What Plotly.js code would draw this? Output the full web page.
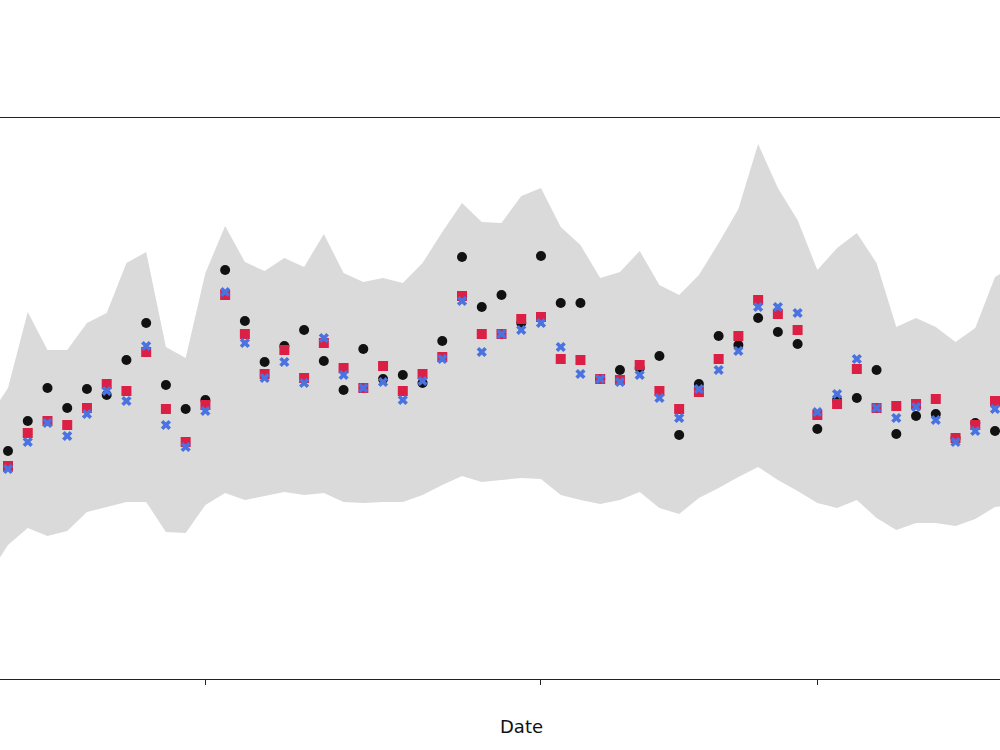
<!DOCTYPE html>
<html>
<head>
<meta charset="utf-8">
<script src="https://cdn.plot.ly/plotly-3.0.1.min.js"></script>
<style>
  html, body { margin: 0; padding: 0; background: #ffffff; }
  #chart { width: 1000px; height: 750px; }
</style>
</head>
<body>
<div id="chart"></div>
<script>
// Observed values per period
const observed = [22.8, 25.8, 29.1, 27.1, 29.0, 28.4, 31.9, 35.6, 29.4, 27.0,
  27.9, 40.9, 35.8, 31.7, 33.3, 34.9, 31.8, 28.9, 33.0, 30.0,
  30.4, 29.6, 33.8, 42.2, 37.2, 38.4, 35.6, 42.3, 37.6, 37.6,
  30.0, 30.9, 31.1, 32.3, 24.4, 29.5, 34.3, 33.4, 36.1, 34.7,
  33.5, 25.0, 27.9, 28.1, 30.9, 24.5, 26.3, 26.5, 24.1, 25.6, 24.8];

// First model estimate
const modelA = [21.3, 24.6, 25.8, 25.4, 27.1, 29.5, 28.8, 32.7, 27.0, 23.7,
  27.4, 38.4, 34.5, 30.5, 32.9, 30.1, 33.6, 31.1, 29.1, 31.3,
  28.8, 30.5, 32.2, 38.3, 34.5, 34.5, 36.0, 36.2, 32.0, 31.9,
  30.0, 29.9, 31.4, 28.8, 27.0, 28.7, 32.0, 34.3, 37.9, 36.5,
  34.9, 26.4, 27.5, 31.0, 27.1, 27.3, 27.5, 28.0, 24.1, 25.4, 27.8];

// Second model estimate
const modelB = [21.0, 23.7, 25.6, 24.3, 26.5, 28.8, 27.8, 33.3, 25.4, 23.2,
  26.8, 38.7, 33.6, 30.1, 31.7, 29.6, 34.1, 30.4, 29.1, 29.7,
  27.9, 29.8, 32.0, 37.8, 32.7, 34.5, 34.9, 35.6, 33.2, 30.5,
  30.0, 29.7, 30.4, 28.1, 26.1, 29.0, 30.9, 32.8, 37.2, 37.2,
  36.6, 26.7, 28.5, 32.0, 27.1, 26.1, 27.2, 25.9, 23.7, 24.8, 27.0];

// Interval bounds, one extra period on each side of the observations
const bandUpper = [26.1, 29.1, 36.7, 32.9, 32.9, 35.6, 36.6, 41.6, 42.7, 33.2, 32.1,
  40.6, 45.3, 41.7, 40.8, 42.1, 41.2, 44.5, 40.6, 39.7, 40.1,
  39.6, 41.6, 44.7, 47.6, 45.7, 45.6, 48.3, 49.1, 45.2, 43.4,
  40.1, 40.7, 42.8, 39.4, 38.4, 40.4, 43.6, 47.0, 53.5, 49.1,
  45.9, 40.9, 43.1, 44.6, 41.6, 35.2, 36.1, 35.2, 33.7, 35.1, 40.2, 41.4];

const bandLower = [10.3, 13.4, 15.1, 14.3, 14.8, 16.7, 17.2, 17.7, 17.7, 14.7, 14.6,
  17.4, 18.6, 17.9, 18.3, 18.7, 18.4, 18.6, 17.7, 17.6, 17.7,
  17.7, 18.4, 19.4, 20.3, 19.7, 19.9, 20.1, 20.0, 18.4, 17.9,
  17.5, 17.9, 18.7, 17.1, 16.5, 18.1, 19.1, 20.2, 21.2, 19.9,
  18.8, 17.6, 17.1, 17.9, 16.1, 14.9, 15.6, 15.6, 15.3, 16.0, 17.2, 17.4];

// Date ticks fall on these periods; their labels are left blank
const tickPeriods = [10, 27, 41];
const tickLabels = ["", "", ""];

const period = observed.map((_, i) => i);
const bandPeriod = bandUpper.map((_, i) => i - 1);

const traces = [
  {
    x: bandPeriod, y: bandLower, type: "scatter", mode: "lines",
    line: { width: 0, color: "rgba(0,0,0,0)" }, hoverinfo: "skip"
  },
  {
    x: bandPeriod, y: bandUpper, type: "scatter", mode: "lines",
    fill: "tonexty", fillcolor: "#dadada",
    line: { width: 0, color: "rgba(0,0,0,0)" }, hoverinfo: "skip"
  },
  {
    x: period, y: observed, type: "scatter", mode: "markers",
    marker: { symbol: "circle", size: 10, color: "#111111" }
  },
  {
    x: period, y: modelA, type: "scatter", mode: "markers",
    marker: { symbol: "square", size: 10, color: "#dc1f45" }
  },
  {
    x: period, y: modelB, type: "scatter", mode: "markers",
    marker: { symbol: "x", size: 9, color: "#4a72e0" }
  }
];

const layout = {
  width: 1000,
  height: 750,
  margin: { l: 0, r: 0, t: 118, b: 71 },
  paper_bgcolor: "#ffffff",
  plot_bgcolor: "#ffffff",
  showlegend: false,
  xaxis: {
    range: [-0.405, 50.253],
    tickmode: "array",
    tickvals: tickPeriods,
    ticktext: tickLabels,
    ticks: "outside",
    ticklen: 5,
    tickwidth: 1,
    tickcolor: "#222222",
    showticklabels: false,
    showgrid: false,
    zeroline: false,
    showline: true,
    linecolor: "#222222",
    linewidth: 1.2,
    mirror: true
  },
  yaxis: {
    range: [0, 56.1],
    showticklabels: false,
    ticks: "",
    showgrid: false,
    zeroline: false,
    showline: false
  },
  // x-axis label, centred under the full axes span
  annotations: [{
    text: "Date",
    xref: "paper", yref: "paper",
    x: 0.521, y: -0.085,
    xanchor: "center", yanchor: "middle",
    showarrow: false,
    font: { family: "DejaVu Sans", size: 18, color: "#111111" }
  }]
};

Plotly.newPlot("chart", traces, layout, { staticPlot: true, displayModeBar: false });
</script>
</body>
</html>
